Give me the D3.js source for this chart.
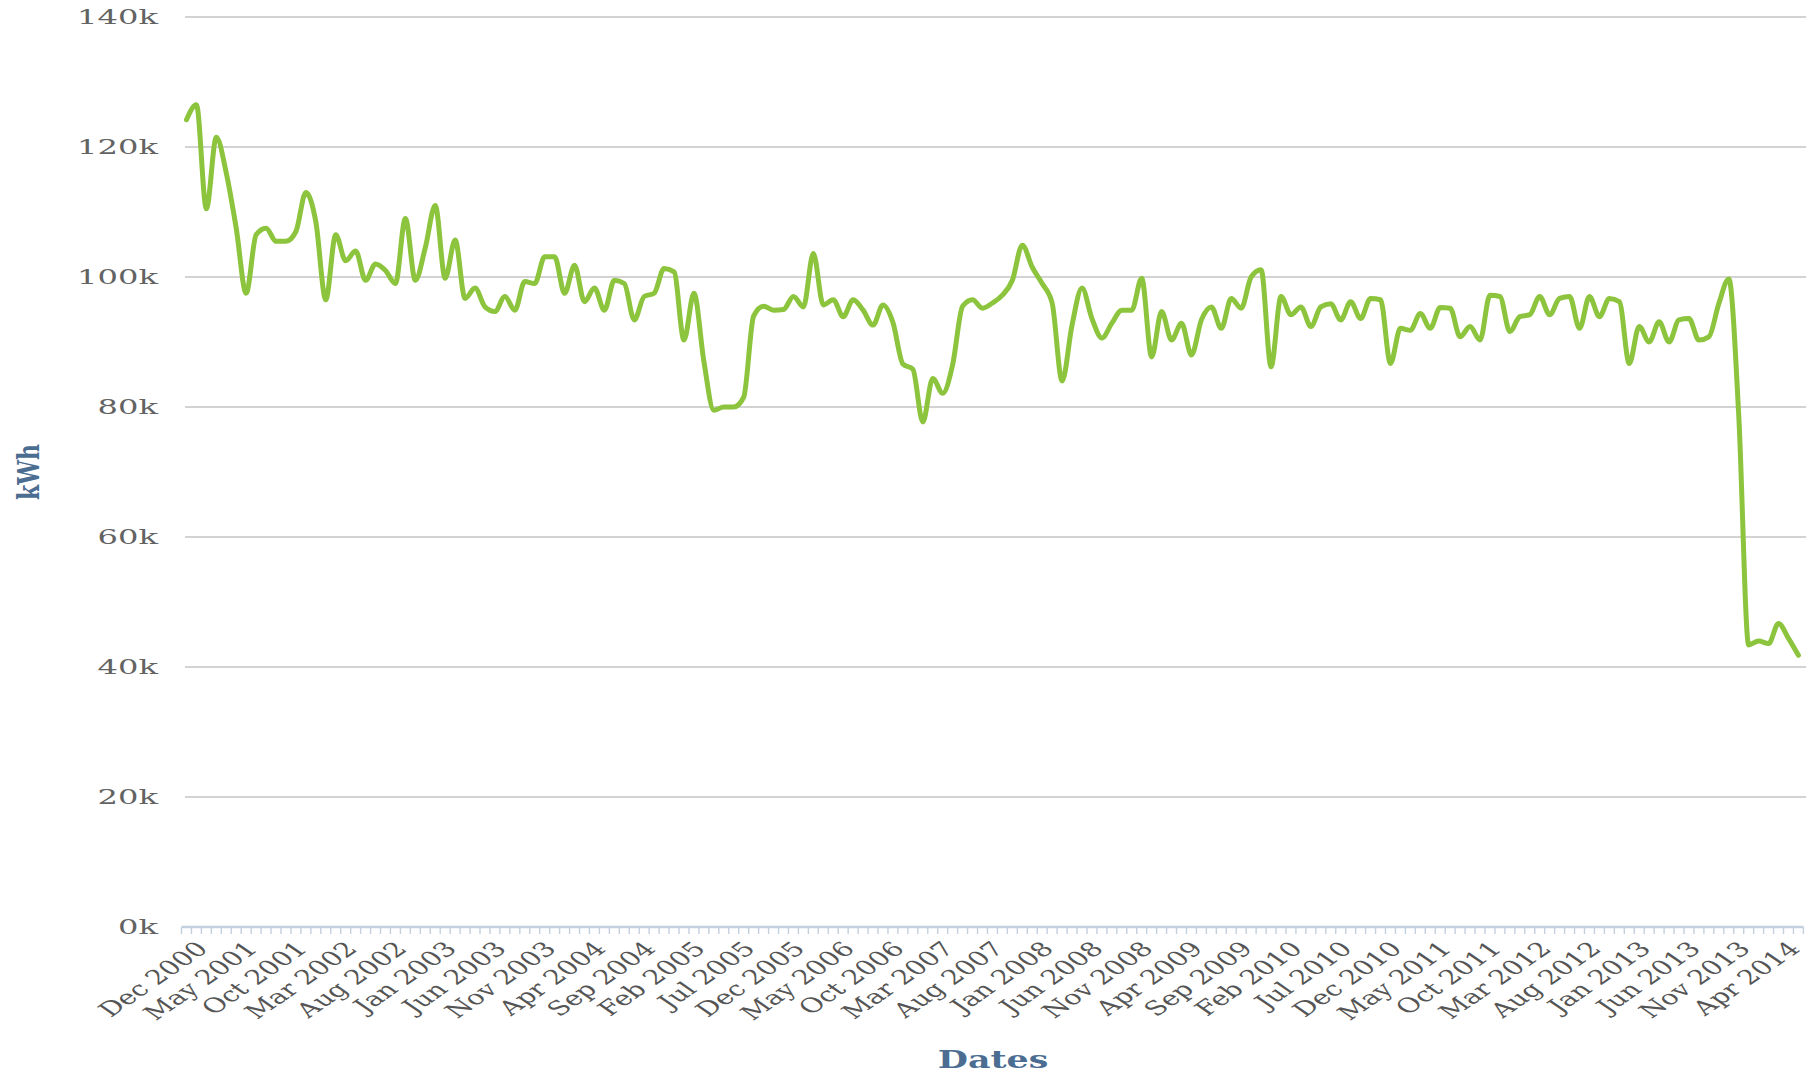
<!DOCTYPE html>
<html>
<head>
<meta charset="utf-8">
<script src="https://cdn.jsdelivr.net/npm/d3@7"></script>
<style>
    body { margin: 0; background: #fff; }
    svg { display: block; }
</style>
</head>
<body>
<svg id="chart" width="1809" height="1074"></svg>
<script>
// monthly consumption, Oct 2000 .. Apr 2014 (kWh)
const kwh = [
    124200, 126500, 110500, 121500, 116000, 107500, 97500, 106500, 107500, 105500,
    105500, 107000, 113000, 108500, 96500, 106500, 102500, 104000, 99500, 102000,
    101000, 99000, 109000, 99500, 104500, 111000, 99800, 105700, 96700, 98300,
    95400, 94700, 97000, 94900, 99300, 99000, 103100, 103100, 97500, 101800,
    96200, 98300, 94900, 99500, 99000, 93400, 97000, 97500, 101300, 100800,
    90300, 97500, 87000, 79500, 80000, 80000, 81500, 94000, 95500, 94900,
    95000, 97000, 95400, 103600, 95700, 96500, 93900, 96500, 94900, 92600,
    95700, 93000, 86600, 85800, 77700, 84400, 82100, 86500, 95500, 96500,
    95200, 96000, 97200, 99500, 104900, 101500, 99000, 96000, 84000, 92600,
    98300, 93600, 90600, 92900, 94900, 94900, 99800, 87700, 94700, 90300,
    92900, 88000, 93400, 95400, 92100, 96700, 95200, 100000, 101100, 86200,
    97000, 94200, 95400, 92400, 95400, 95900, 93400, 96200, 93600, 96700,
    96500, 86700, 92100, 91800, 94400, 92100, 95300, 95200, 90800, 92400,
    90300, 97200, 97000, 91600, 93900, 94200, 97000, 94200, 96700, 97000,
    92100, 97000, 93900, 96700, 96200, 86700, 92400, 90000, 93100, 90000,
    93400, 93600, 90300, 90800, 95900, 99700, 78800, 43400, 44000, 43600,
    46700, 44400, 41800
];
const tickLabels = [
    "Dec 2000", "May 2001", "Oct 2001", "Mar 2002", "Aug 2002", "Jan 2003", "Jun 2003",
    "Nov 2003", "Apr 2004", "Sep 2004", "Feb 2005", "Jul 2005", "Dec 2005", "May 2006",
    "Oct 2006", "Mar 2007", "Aug 2007", "Jan 2008", "Jun 2008", "Nov 2008", "Apr 2009",
    "Sep 2009", "Feb 2010", "Jul 2010", "Dec 2010", "May 2011", "Oct 2011", "Mar 2012",
    "Aug 2012", "Jan 2013", "Jun 2013", "Nov 2013", "Apr 2014"
];
const yTicks = [0, 20000, 40000, 60000, 80000, 100000, 120000, 140000];

const font = "'DejaVu Serif', serif";

// categories: one per month
const fmt = d3.timeFormat("%b %Y");
const months = d3.timeMonth.range(new Date(2000, 9, 1), new Date(2014, 4, 1)).map(fmt);

const svg = d3.select("#chart");
const x = d3.scaleBand().domain(months).range([181.5, 1803.4]);
const y = d3.scaleLinear().domain([0, 140000]).range([927, 17]);
const cx = m => x(m) + x.bandwidth() / 2;

// grid lines
svg.append("g").selectAll("line").data(yTicks.filter(t => t > 0)).join("line")
    .attr("x1", 185).attr("x2", 1806)
    .attr("y1", d => y(d)).attr("y2", d => y(d))
    .attr("stroke", "#c4c4c4").attr("stroke-width", 1.6);

// y labels (the picture draws text wide, hence the x scale)
svg.append("g").selectAll("text").data(yTicks).join("text")
    .attr("transform", d => "translate(158," + (y(d) + 7) + ") scale(1.65,1)")
    .attr("text-anchor", "end")
    .style("font-family", font).style("font-size", "19.5px").attr("fill", "#636363")
    .text(d => (d / 1000) + "k");

// x axis line and comb ticks at band edges
const edges = months.map(m => x(m)).concat([x.range()[1]]);
svg.append("g").selectAll("line").data(edges).join("line")
    .attr("x1", d => d).attr("x2", d => d)
    .attr("y1", y(0)).attr("y2", y(0) + 7)
    .attr("stroke", "#c3d0dd").attr("stroke-width", 1.4);
svg.append("line")
    .attr("x1", x.range()[0]).attr("x2", x.range()[1])
    .attr("y1", y(0)).attr("y2", y(0))
    .attr("stroke", "#c3d0dd").attr("stroke-width", 2.5);

// x labels
svg.append("g").selectAll("text").data(tickLabels).join("text")
    .attr("transform", d => "translate(" + (cx(d) + 3) + ",950) scale(1.45,1) rotate(-45)")
    .attr("text-anchor", "end")
    .style("font-family", font).style("font-size", "20px").attr("fill", "#555")
    .text(d => d);

// the series
const line = d3.line()
    .x((d, i) => cx(months[i]))
    .y(d => y(d))
    .curve(d3.curveMonotoneX);
svg.append("path").datum(kwh)
    .attr("d", line)
    .attr("fill", "none").attr("stroke", "#8cc43d")
    .attr("stroke-width", 5).attr("stroke-linejoin", "round").attr("stroke-linecap", "round");

// axis titles
svg.append("text")
    .attr("transform", "translate(993,1068) scale(1.45,1)")
    .attr("text-anchor", "middle")
    .style("font-family", font).style("font-size", "24px").style("font-weight", "bold")
    .attr("fill", "#4b6d92").text("Dates");
svg.append("text")
    .attr("transform", "translate(39,472) scale(1.35,1) rotate(-90)")
    .attr("text-anchor", "middle")
    .style("font-family", font).style("font-size", "22px").style("font-weight", "bold")
    .attr("fill", "#4b6d92").text("kWh");
</script>
</body>
</html>
